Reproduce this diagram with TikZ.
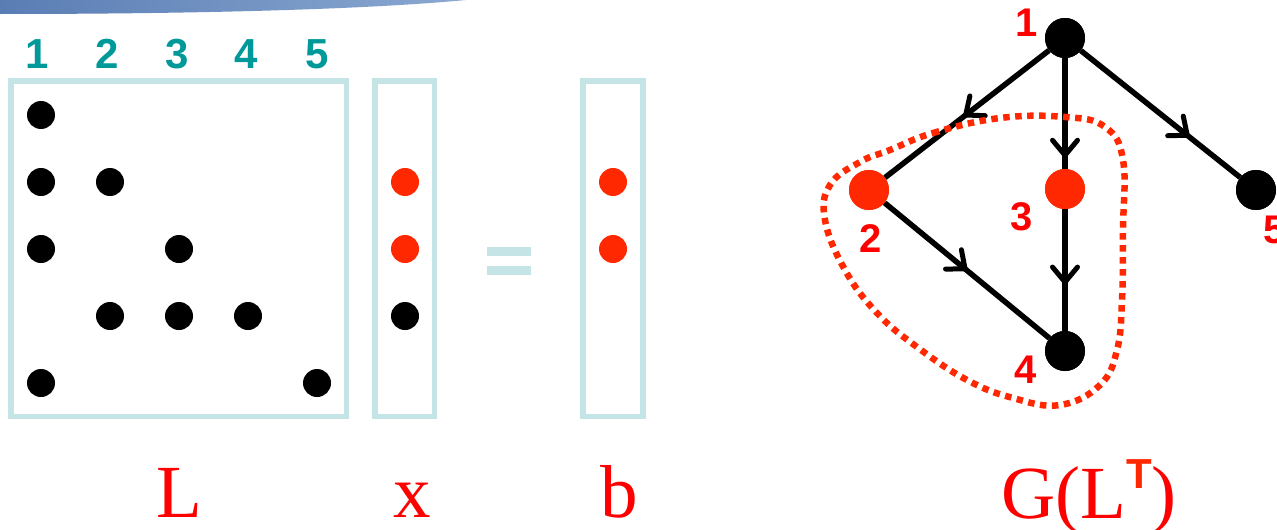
\documentclass[tikz,border=0pt]{standalone}
\usepackage{fontspec}
\setmainfont{Liberation Serif}
\newfontfamily\sansb{Liberation Sans}
\usetikzlibrary{arrows.meta,decorations.markings}
\definecolor{boxc}{RGB}{196,228,230}
\definecolor{teal2}{RGB}{0,153,153}
\definecolor{dotred}{RGB}{255,40,0}
\definecolor{labred}{RGB}{255,0,0}
\definecolor{barblue}{RGB}{90,125,180}
\definecolor{barlight}{RGB}{140,170,210}
\begin{document}
\begin{tikzpicture}[x=1pt,y=-1pt,
  mdot/.style={circle,fill=black,minimum size=28pt,inner sep=0},
  rdot/.style={mdot,fill=dotred},
  gnode/.style={circle,fill=black,minimum size=40pt,inner sep=0},
  gred/.style={gnode,fill=dotred},
  colnum/.style={font=\sansb\bfseries\fontsize{42}{42}\selectfont,text=teal2,inner sep=0},
  glab/.style={font=\sansb\bfseries\fontsize{40}{40}\selectfont,text=labred,inner sep=0},
  biglab/.style={font=\fontsize{75}{75}\selectfont,text=labred,inner sep=0,anchor=base},
  vecbox/.style={draw=boxc,line width=5.5pt},
  edgeline/.style={line width=5.5pt,postaction=decorate},
  midarrow/.style={decoration={markings,mark=at position #1 with {\arrow{Straight Barb[length=15pt,width=25pt,line width=5pt,round]}}}},
  hull/.style={draw=dotred,line width=6.5pt,dash pattern=on 6.5pt off 5.5pt}
]
\useasboundingbox (0,0) rectangle (1277,530);
% top band
\shade[left color=barblue,right color=barlight] (0,-2) -- (0,14) .. controls (180,14) and (380,10) .. (485,-2) -- cycle;
% column numbers
\node[colnum] (c1) at (37,54) {1};
\node[colnum] (c2) at (107,54) {2};
\node[colnum] (c3) at (177,54) {3};
\node[colnum] (c4) at (246,54) {4};
\node[colnum] (c5) at (317,54) {5};
% boxes
\draw[vecbox] (11,81) rectangle (346.5,416.5);
\draw[vecbox] (375,81) rectangle (434.5,416.5);
\draw[vecbox] (583,81) rectangle (643,416.5);
% matrix L entries
\node[mdot] (m11) at (41,115) {};
\node[mdot] (m21) at (41,182) {};
\node[mdot] (m22) at (110,182) {};
\node[mdot] (m31) at (41,249) {};
\node[mdot] (m33) at (179,249) {};
\node[mdot] (m42) at (110,316) {};
\node[mdot] (m43) at (179,316) {};
\node[mdot] (m44) at (248,316) {};
\node[mdot] (m51) at (41,383) {};
\node[mdot] (m55) at (317,383) {};
% x vector
\node[rdot] (x2) at (405,182) {};
\node[rdot] (x3) at (405,249) {};
\node[mdot] (x4) at (405,316) {};
% b vector
\node[rdot] (b2) at (613,182) {};
\node[rdot] (b3) at (613,249) {};
% equal sign
\fill[boxc] (487,247) rectangle (531,256);
\fill[boxc] (487,266) rectangle (531,274.5);
% graph
\node[gnode] (n1) at (1065,38) {};
\node[gred] (n2) at (869,190) {};
\node[gred] (n3) at (1065,189) {};
\node[gnode] (n4) at (1065,351) {};
\node[gnode] (n5) at (1256,190) {};
\draw[edgeline,midarrow=0.52] (n1) -- (n2);
\draw[edgeline,midarrow=0.9] (n1) -- (n3);
\draw[edgeline,midarrow=0.68] (n1) -- (n5);
\draw[edgeline,midarrow=0.5] (n2) -- (n4);
\draw[edgeline,midarrow=0.62] (n3) -- (n4);
\draw[hull] plot[smooth cycle,tension=0.7] coordinates {(890,150) (933,133) (1000,118) (1065,117) (1105,127) (1123,160) (1123,230) (1122,300) (1117,350) (1100,385) (1060,405) (1013,398) (967,380) (917,347) (877,313) (845,270) (825,220) (830,185) (860,162)};
\node[gnode] at (n1) {};
\node[gred] at (n2) {};
\node[gred] at (n3) {};
\node[gnode] at (n4) {};
\node[gnode] at (n5) {};
\node[glab] (l1) at (1027,23) {1};
\node[glab] (l2) at (871,239) {2};
\node[glab] (l3) at (1022,217) {3};
\node[glab] (l4) at (1026,370) {4};
\node[glab] (l5) at (1275,230) {5};
% bottom labels
\node[biglab] (lL) at (179,517) {L};
\node[biglab] (lx) at (412,517) {x};
\node[biglab] (lb) at (619,517) {b};
\node[biglab,anchor=base west] (lG) at (1001,518) {G(L\raisebox{30pt}{\sansb\bfseries\fontsize{42}{42}\selectfont\color{dotred}T})};
\end{tikzpicture}
\end{document}
